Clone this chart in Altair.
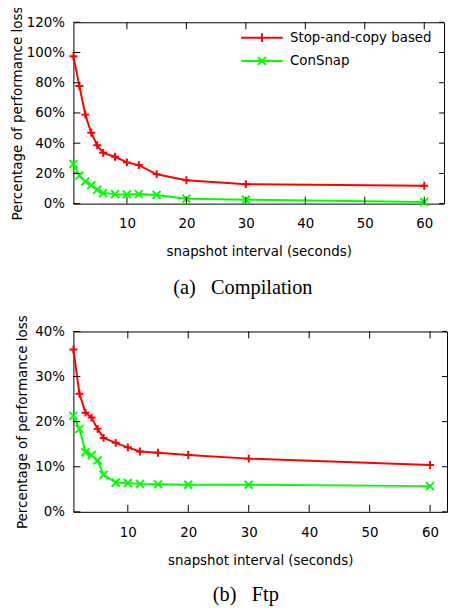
import altair as alt
import pandas as pd

# ---- data ----
x_vals = [1, 2, 3, 4, 5, 6, 8, 10, 12, 15, 20, 30, 60]
series_names = ["Stop-and-copy based", "ConSnap"]
comp_stop = [97.5, 77.9, 58.9, 46.9, 38.6, 33.6, 31.0, 27.3, 25.5, 19.4, 15.5, 12.9, 11.8]
comp_consnap = [26.2, 18.5, 14.6, 12.2, 9.2, 7.0, 6.3, 6.1, 6.3, 5.7, 3.3, 2.6, 1.1]
ftp_stop = [36.0, 26.2, 22.0, 20.9, 18.4, 16.4, 15.3, 14.3, 13.4, 13.1, 12.6, 11.8, 10.4]
ftp_consnap = [21.3, 18.4, 13.2, 12.6, 11.4, 8.2, 6.5, 6.4, 6.2, 6.1, 6.0, 6.0, 5.7]
x_ticks = [10, 20, 30, 40, 50, 60]
comp_y_ticks = [0, 20, 40, 60, 80, 100, 120]
ftp_y_ticks = [0, 10, 20, 30, 40]
x_title = "snapshot interval (seconds)"
y_title = "Percentage of performance loss"
captions = ["(a)\u2002 Compilation", "(b)\u2002 Ftp"]

colors = ["#ff0000", "#00ff00"]
PLUS = "M-1,0L1,0M0,-1L0,1"
CROSS = "M-1,-1L1,1M-1,1L1,-1"
LEG_PLUS = "M-4.2,0L4.2,0M0,-0.9L0,0.9"
LEG_CROSS = "M-4.2,0L4.2,0M-0.8,-0.8L0.8,0.8M-0.8,0.8L0.8,-0.8"
FONT = "DejaVu Sans"
FS = 13.5


def panel(stop, consnap, yticks, ymax, xmax, width, height, caption, legx, legy,
          title_pad, xlab_pad, dx, cap_offset):
    n = len(x_vals)
    df = pd.DataFrame({
        "x": x_vals * 2,
        "y": stop + consnap,
        "s": [series_names[0]] * n + [series_names[1]] * n,
    })
    xs = alt.Scale(domain=[1, xmax], nice=False, zero=False)
    ys = alt.Scale(domain=[0, ymax], nice=False, zero=True)
    cs = alt.Scale(domain=series_names, range=colors)
    base = alt.Chart(df)

    X = alt.X("x:Q", scale=xs,
              axis=alt.Axis(values=x_ticks, title=x_title, labelPadding=xlab_pad,
                            titlePadding=15, labelFlush=False))
    Y = alt.Y("y:Q", scale=ys,
              axis=alt.Axis(values=yticks, labelExpr="datum.value + '%'", title=y_title,
                            labelPadding=9, titlePadding=title_pad, labelFlush=False,
                            titleFontSize=13.6))

    layers = []
    for name, col, shp in zip(series_names, colors, [PLUS, CROSS]):
        sub = base.transform_filter(alt.datum.s == name)
        layers.append(sub.mark_line(strokeWidth=2, color=col).encode(x=X, y=Y))
        layers.append(sub.mark_point(shape=shp, size=64, filled=False, strokeWidth=2,
                                     color=col, opacity=1).encode(x=X, y=Y))

    leg = alt.Legend(title=None, orient="none", legendX=legx, legendY=legy)
    legend_layer = base.transform_filter("false").mark_point(
        filled=False, strokeWidth=2, opacity=1
    ).encode(
        x=X, y=Y,
        color=alt.Color("s:N", scale=cs, legend=leg),
        shape=alt.Shape("s:N", scale=alt.Scale(domain=series_names, range=[LEG_PLUS, LEG_CROSS]),
                        legend=leg),
    )
    layers.append(legend_layer)

    xt = pd.DataFrame({"x": x_ticks})
    yt = pd.DataFrame({"y": yticks})
    layers.append(alt.Chart(xt).mark_rule(color="black", strokeWidth=1).encode(
        x=X, y=alt.value(height), y2=alt.value(height - 7)))
    layers.append(alt.Chart(xt).mark_rule(color="black", strokeWidth=1).encode(
        x=X, y=alt.value(0), y2=alt.value(7)))
    layers.append(alt.Chart(yt).mark_rule(color="black", strokeWidth=1).encode(
        y=Y, x=alt.value(0), x2=alt.value(7)))
    layers.append(alt.Chart(yt).mark_rule(color="black", strokeWidth=1).encode(
        y=Y, x=alt.value(width - 5), x2=alt.value(width)))

    return alt.layer(*layers).properties(
        width=width, height=height,
        title=alt.TitleParams(caption, orient="bottom", anchor="middle", frame="group",
                              font="Liberation Serif", fontSize=20.5, fontWeight="normal",
                              color="black", offset=cap_offset, dx=dx),
    )


top = panel(comp_stop, comp_consnap, comp_y_ticks, 120, 63.33, 374, 183, captions[0],
            183.5, 8.75, 2, 13, -16, 20)
bottom = panel(ftp_stop, ftp_consnap, ftp_y_ticks, 40, 62.8, 377, 182, captions[1],
               191.2, 7.25, 5.5, 14, -14.5, 18)

chart = alt.concat(top, bottom, columns=1, align="none", spacing=15).properties(
    padding={"left": 1, "top": -5.3, "right": 0, "bottom": -2}
).configure_view(
    stroke="black", strokeWidth=1
).configure_axis(
    labelFont=FONT, labelFontSize=FS, labelColor="black",
    titleFont=FONT, titleFontSize=FS, titleFontWeight="normal", titleColor="black",
    ticks=False, tickSize=0, domain=False, grid=False,
).configure_legend(
    labelFont=FONT, labelFontSize=FS, labelColor="black", labelLimit=300,
    symbolStrokeWidth=2, symbolSize=100, labelOffset=21.5, rowPadding=5.5, padding=0,
    symbolOpacity=1,
)

chart.save("out.html", embed_options={"renderer": "svg", "actions": False})
